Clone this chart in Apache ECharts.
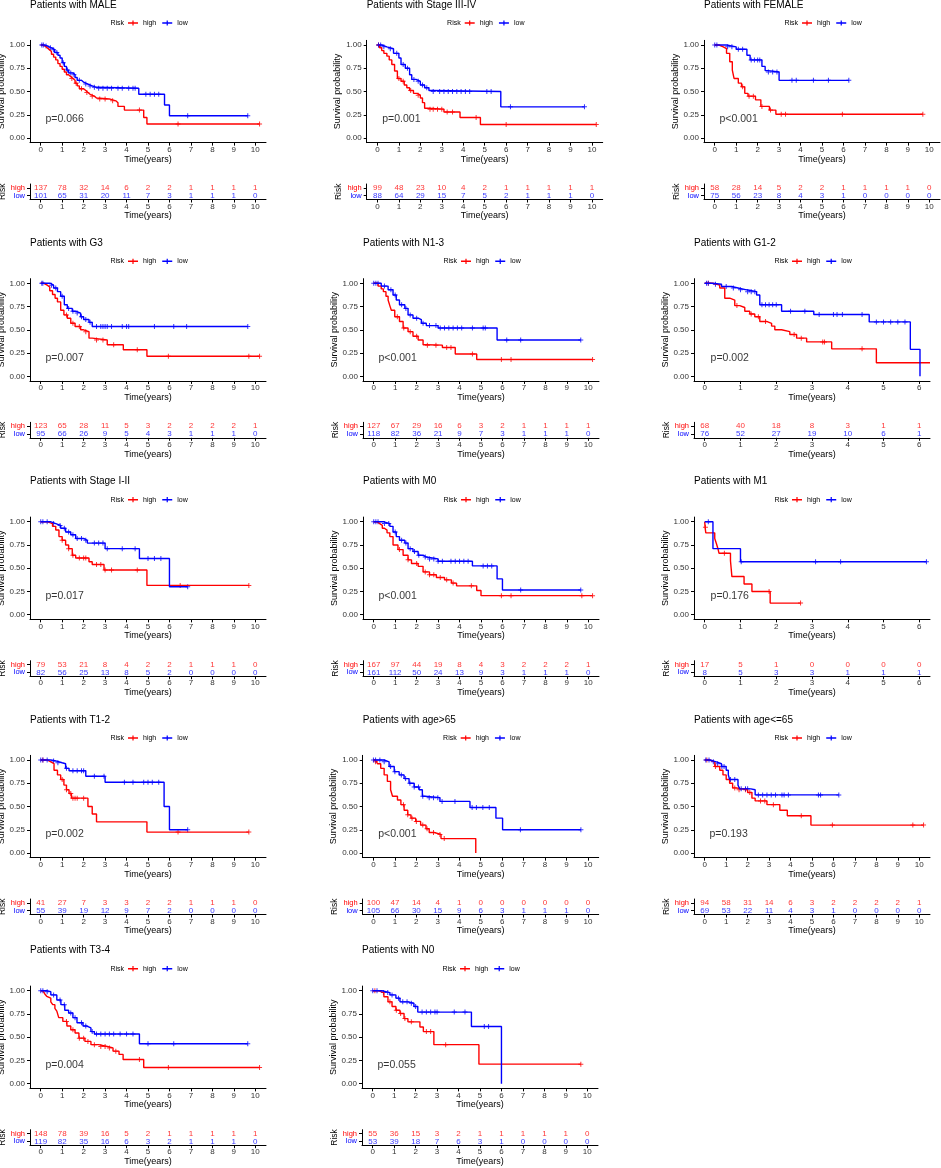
<!DOCTYPE html>
<html>
<head>
<meta charset="utf-8">
<title>Survival by subgroup</title>
<script src="https://cdn.jsdelivr.net/npm/echarts@6/dist/echarts.min.js"></script>
<style>
  html, body { margin: 0; padding: 0; background: #fff; }
  #chart { width: 941px; height: 1168px; }
</style>
</head>
<body>
<div id="chart"></div>
<script>
// ---- data: [time, survival] after each step ----
const maleHigh = [[0,1],[0.1,0.99],[0.2,0.97],[0.3,0.95],[0.4,0.93],[0.5,0.9],[0.6,0.87],[0.7,0.84],[0.8,0.8],[0.9,0.77],[1.0,0.74],[1.1,0.71],[1.2,0.68],[1.3,0.66],[1.4,0.64],[1.5,0.62],[1.6,0.59],[1.7,0.56],[1.8,0.53],[2.0,0.51],[2.1,0.49],[2.2,0.47],[2.3,0.45],[2.5,0.43],[2.6,0.42],[3.2,0.4],[3.5,0.38],[3.6,0.34],[3.9,0.3],[4.8,0.22],[4.95,0.15],[10.2,0.15]];
const maleHighCens = [1.45,1.65,1.9,2.15,2.4,2.75,3.0,3.35,4.6,6.4,10.2];
const maleLow = [[0,1],[0.15,0.99],[0.3,0.97],[0.5,0.95],[0.65,0.92],[0.8,0.89],[0.9,0.86],[1.0,0.81],[1.1,0.77],[1.2,0.73],[1.3,0.7],[1.5,0.68],[1.6,0.65],[1.7,0.62],[1.9,0.6],[2.0,0.58],[2.2,0.56],[2.4,0.545],[2.6,0.535],[4.57,0.47],[5.77,0.355],[6.0,0.24],[9.65,0.24]];
const maleLowCens = [0.05,0.12,0.25,0.45,0.6,0.75,1.05,1.25,1.4,1.55,1.8,2.1,2.3,2.5,2.7,2.9,3.1,3.3,3.6,3.8,4.1,4.3,4.4,4.9,5.1,5.3,5.5,6.85,9.65];
const maleRiskHigh = [137,78,32,14,6,2,2,1,1,1,1];
const maleRiskLow = [101,65,31,20,11,7,3,1,1,1,0];

const stage34High = [[0,1],[0.1,0.97],[0.2,0.94],[0.3,0.91],[0.44,0.88],[0.55,0.84],[0.67,0.79],[0.8,0.72],[0.93,0.64],[1.1,0.61],[1.25,0.57],[1.37,0.54],[1.5,0.51],[1.68,0.48],[1.85,0.46],[2.0,0.43],[2.1,0.38],[2.2,0.32],[2.35,0.31],[3.1,0.28],[3.85,0.22],[4.8,0.145],[10.2,0.145]];
const stage34HighCens = [0.05,1.0,1.2,1.55,1.9,2.45,2.6,2.8,3.0,3.25,3.5,4.6,6.0,10.2];
const stage34Low = [[0,1],[0.2,0.98],[0.44,0.96],[0.75,0.91],[1.0,0.86],[1.1,0.79],[1.3,0.75],[1.5,0.68],[1.6,0.63],[1.8,0.61],[2.0,0.57],[2.2,0.54],[2.4,0.51],[2.5,0.5],[5.75,0.335],[9.65,0.335]];
const stage34LowCens = [0.05,0.15,0.3,0.6,0.9,1.2,1.4,1.7,1.9,2.1,2.3,2.6,2.9,3.1,3.3,3.5,3.7,3.9,4.1,4.3,5.1,5.3,6.2,9.65];
const stage34RiskHigh = [99,48,23,10,4,2,1,1,1,1,1];
const stage34RiskLow = [88,64,29,15,7,5,2,1,1,1,0];

const femaleHigh = [[0,1],[0.2,0.98],[0.4,0.96],[0.55,0.91],[0.7,0.82],[0.82,0.73],[0.9,0.64],[1.1,0.59],[1.25,0.55],[1.4,0.48],[1.55,0.45],[1.9,0.41],[2.15,0.34],[2.55,0.3],[2.85,0.255],[9.7,0.255]];
const femaleHighCens = [1.3,1.6,1.8,2.2,2.6,3.1,3.3,5.95,9.7];
const femaleLow = [[0,1],[0.55,0.98],[1.0,0.955],[1.5,0.89],[1.65,0.84],[2.2,0.77],[2.35,0.725],[2.5,0.71],[3.0,0.62],[6.25,0.62]];
const femaleLowCens = [0,0.1,0.6,0.8,1.1,1.3,1.7,1.85,2.0,2.1,2.5,2.7,2.9,3.6,3.8,4.6,5.3,6.25];
const femaleRiskHigh = [58,28,14,5,2,2,1,1,1,1,0];
const femaleRiskLow = [75,56,23,8,4,3,1,0,0,0,0];

const g3High = [[0,1],[0.15,0.98],[0.3,0.96],[0.42,0.92],[0.55,0.88],[0.67,0.84],[0.78,0.8],[0.93,0.71],[1.08,0.66],[1.24,0.625],[1.4,0.57],[1.6,0.535],[1.86,0.5],[2.0,0.48],[2.25,0.41],[2.4,0.39],[3.1,0.34],[3.85,0.285],[4.95,0.215],[10.2,0.215]];
const g3HighCens = [1.2,1.5,1.8,2.1,2.6,2.9,3.4,4.5,5.95,9.7,10.2];
const g3Low = [[0,1],[0.45,0.98],[0.6,0.95],[0.78,0.91],[0.93,0.86],[1.1,0.77],[1.24,0.73],[1.47,0.7],[1.63,0.68],[1.86,0.64],[2.0,0.61],[2.25,0.58],[2.4,0.535],[9.65,0.535]];
const g3LowCens = [0.05,0.1,0.5,0.7,1.0,1.3,1.5,1.7,1.9,2.1,2.3,2.6,2.8,2.9,3.0,3.1,3.3,3.8,4.0,4.1,5.3,6.2,6.8,9.65];
const g3RiskHigh = [123,65,28,11,5,3,2,2,2,2,1];
const g3RiskLow = [95,66,26,9,5,4,3,1,1,1,0];

const n13High = [[0,1],[0.2,0.97],[0.35,0.94],[0.45,0.91],[0.57,0.86],[0.67,0.82],[0.75,0.76],[0.82,0.71],[0.98,0.64],[1.2,0.59],[1.37,0.52],[1.6,0.48],[1.83,0.43],[2.07,0.39],[2.3,0.34],[2.45,0.335],[3.2,0.31],[3.8,0.24],[4.8,0.18],[10.2,0.18]];
const n13HighCens = [1.1,1.4,1.7,2.0,2.5,2.9,3.4,3.6,4.6,5.95,6.4,10.2];
const n13Low = [[0,1],[0.35,0.97],[0.67,0.93],[0.9,0.875],[1.05,0.82],[1.2,0.77],[1.45,0.73],[1.6,0.66],[1.83,0.625],[2.07,0.61],[2.22,0.57],[2.45,0.545],[3.0,0.52],[5.75,0.39],[9.65,0.39]];
const n13LowCens = [0,0.1,0.2,0.5,0.8,1.0,1.3,1.5,1.7,2.0,2.3,2.6,2.9,3.1,3.3,3.5,3.7,3.9,4.1,4.6,5.1,5.2,6.2,6.85,9.65];
const n13RiskHigh = [127,67,29,16,6,3,2,1,1,1,1];
const n13RiskLow = [118,82,36,21,9,7,3,1,1,1,0];

const g12High = [[0,1],[0.23,0.98],[0.42,0.95],[0.56,0.84],[0.7,0.82],[0.84,0.76],[0.98,0.74],[1.12,0.7],[1.26,0.67],[1.4,0.64],[1.54,0.59],[1.73,0.57],[1.87,0.54],[1.96,0.5],[2.15,0.48],[2.38,0.45],[2.57,0.41],[2.85,0.37],[3.55,0.295],[4.8,0.145],[6.3,0.145]];
const g12HighCens = [0.1,0.9,1.3,1.5,1.7,2.5,2.7,3.3,3.35,4.4];
const g12Low = [[0,1],[0.2,0.99],[0.47,0.965],[0.75,0.95],[0.93,0.93],[1.17,0.91],[1.45,0.875],[1.54,0.77],[2.15,0.7],[3.05,0.665],[4.6,0.585],[5.75,0.29],[6.02,0]];
const g12LowCens = [0.05,0.1,0.3,0.6,0.8,1.0,1.2,1.3,1.4,1.6,1.7,1.8,1.9,2.0,2.4,2.8,3.2,3.6,3.7,3.85,4.4,4.8,5.0,5.2,5.4,5.6];
const g12RiskHigh = [68,40,18,8,3,1,1];
const g12RiskLow = [76,52,27,19,10,6,1];

const stage12High = [[0,1],[0.3,0.98],[0.55,0.95],[0.7,0.91],[0.85,0.84],[1.0,0.8],[1.16,0.75],[1.3,0.71],[1.47,0.64],[1.63,0.61],[2.25,0.57],[2.4,0.54],[2.95,0.48],[4.95,0.315],[9.7,0.315]];
const stage12HighCens = [1.0,1.3,1.5,1.8,2.0,2.1,2.6,2.8,3.0,3.3,4.5,6.5,9.7];
const stage12Low = [[0,1],[0.45,0.98],[0.7,0.96],[0.93,0.93],[1.16,0.89],[1.4,0.86],[1.63,0.82],[2.0,0.8],[2.17,0.77],[3.0,0.71],[4.6,0.605],[6.0,0.3],[6.85,0.3]];
const stage12LowCens = [0,0.1,0.3,0.6,0.9,1.1,1.3,1.5,1.7,1.9,2.1,2.5,2.7,2.9,3.1,3.8,4.4,5.0,5.3,5.6,6.85];
const stage12RiskHigh = [79,53,21,8,4,2,2,1,1,1,0];
const stage12RiskLow = [82,56,25,13,8,5,2,0,0,0,0];

const m0High = [[0,1],[0.15,0.98],[0.28,0.96],[0.4,0.93],[0.5,0.91],[0.62,0.88],[0.75,0.84],[0.9,0.75],[1.13,0.7],[1.37,0.64],[1.6,0.59],[1.76,0.55],[2.07,0.52],[2.3,0.46],[2.6,0.43],[2.92,0.4],[3.3,0.375],[3.62,0.34],[3.86,0.31],[4.8,0.26],[5.0,0.205],[10.2,0.205]];
const m0HighCens = [1.2,1.6,2.0,2.4,2.6,2.8,3.1,3.4,3.7,4.55,5.95,6.4,9.7,10.2];
const m0Low = [[0,1],[0.45,0.98],[0.75,0.95],[0.9,0.89],[1.05,0.84],[1.2,0.8],[1.45,0.77],[1.6,0.71],[1.83,0.68],[2.07,0.64],[2.3,0.62],[2.45,0.6],[3.0,0.575],[4.6,0.525],[5.75,0.385],[6.0,0.265],[9.65,0.265]];
const m0LowCens = [0,0.1,0.2,0.5,0.7,1.0,1.3,1.5,1.7,1.9,2.1,2.4,2.6,2.8,3.0,3.2,3.6,3.8,4.0,4.2,4.4,5.1,5.3,5.5,6.85,9.65];
const m0RiskHigh = [167,97,44,19,8,4,3,2,2,2,1];
const m0RiskLow = [161,112,50,24,13,9,3,1,1,1,0];

const m1High = [[0,1],[0.01,0.94],[0.03,0.88],[0.28,0.82],[0.33,0.76],[0.37,0.71],[0.4,0.66],[0.72,0.58],[0.76,0.41],[1.1,0.33],[1.32,0.25],[1.83,0.125],[2.68,0.125]];
const m1HighCens = [0.02,0.55,1.8,2.68];
const m1Low = [[0,1],[0.23,0.71],[1.0,0.57],[6.2,0.57]];
const m1LowCens = [0.1,1.02,3.1,3.8,6.2];
const m1RiskHigh = [17,5,1,0,0,0,0];
const m1RiskLow = [8,5,3,3,1,1,1];

const t12High = [[0,1],[0.3,0.98],[0.47,0.96],[0.62,0.89],[0.78,0.84],[0.93,0.79],[1.08,0.73],[1.2,0.68],[1.32,0.64],[1.43,0.59],[2.2,0.5],[2.4,0.42],[2.6,0.335],[4.95,0.225],[9.7,0.225]];
const t12HighCens = [0.1,1.0,1.2,1.4,1.5,1.6,1.7,2.0,6.4,9.7];
const t12Low = [[0,1],[0.47,0.99],[0.7,0.97],[1.0,0.96],[1.16,0.91],[1.32,0.885],[2.1,0.825],[3.0,0.76],[5.75,0.5],[6.0,0.25],[6.85,0.25]];
const t12LowCens = [0,0.1,0.3,0.6,0.8,1.2,1.5,1.7,1.9,2.0,2.5,2.95,3.9,4.3,4.8,5.0,5.2,5.5,6.85];
const t12RiskHigh = [41,27,7,3,3,2,2,1,1,1,0];
const t12RiskLow = [55,39,19,12,9,7,2,0,0,0,0];

const oldHigh = [[0,1],[0.1,0.98],[0.19,0.96],[0.34,0.91],[0.5,0.84],[0.65,0.77],[0.8,0.68],[0.89,0.61],[1.12,0.57],[1.28,0.52],[1.43,0.46],[1.6,0.41],[1.75,0.375],[1.97,0.34],[2.2,0.3],[2.45,0.26],[2.6,0.22],[2.83,0.2],[3.15,0.155],[4.77,0]];
const oldHighCens = [0.1,1.4,1.6,1.8,2.0,2.3,2.5,2.8,3.1,3.3];
const oldLow = [[0,1],[0.5,0.98],[0.73,0.93],[0.97,0.875],[1.2,0.84],[1.43,0.8],[1.66,0.75],[1.9,0.71],[2.13,0.68],[2.28,0.61],[2.4,0.595],[3.1,0.555],[4.5,0.49],[5.71,0.375],[6.02,0.25],[9.67,0.25]];
const oldLowCens = [0,0.1,0.3,0.5,0.8,1.0,1.3,1.5,1.7,1.9,2.1,2.3,2.6,2.8,3.0,3.2,3.8,4.6,4.8,5.1,5.4,6.85,9.67];
const oldRiskHigh = [100,47,14,4,1,0,0,0,0,0,0];
const oldRiskLow = [105,66,30,15,9,6,3,1,1,1,0];

const youngHigh = [[0,1],[0.23,0.98],[0.47,0.93],[0.7,0.89],[0.85,0.84],[1.0,0.79],[1.16,0.75],[1.3,0.7],[1.45,0.68],[2.0,0.65],[2.2,0.59],[2.35,0.56],[2.9,0.52],[3.5,0.46],[3.85,0.4],[4.95,0.3],[10.2,0.3]];
const youngHighCens = [0.1,0.5,1.4,1.6,1.9,2.1,2.6,2.8,3.2,4.5,5.95,9.7,10.2];
const youngLow = [[0,1],[0.23,0.98],[0.54,0.96],[0.78,0.93],[1.0,0.89],[1.1,0.84],[1.16,0.79],[1.55,0.73],[1.63,0.69],[2.15,0.68],[2.35,0.625],[6.25,0.625]];
const youngLowCens = [0.05,0.2,0.4,0.6,0.8,0.9,1.2,1.4,1.7,1.9,2.0,2.5,2.7,2.9,3.1,3.3,3.6,3.7,3.9,5.3,5.4,6.25];
const youngRiskHigh = [94,58,31,14,6,3,2,2,2,2,1];
const youngRiskLow = [69,53,22,11,4,3,1,0,0,0,0];

const t34High = [[0,1],[0.1,0.985],[0.19,0.965],[0.28,0.94],[0.37,0.92],[0.47,0.88],[0.56,0.85],[0.66,0.81],[0.75,0.78],[0.84,0.71],[1.03,0.67],[1.22,0.62],[1.4,0.58],[1.6,0.545],[1.78,0.49],[2.06,0.455],[2.34,0.42],[2.7,0.4],[3.1,0.385],[3.37,0.35],[3.65,0.315],[3.84,0.26],[4.8,0.175],[10.2,0.175]];
const t34HighCens = [1.2,1.5,1.8,2.0,2.2,2.5,2.8,3.0,3.2,3.5,4.6,5.95,10.2];
const t34Low = [[0,1],[0.28,0.99],[0.47,0.955],[0.75,0.9],[0.94,0.85],[1.12,0.79],[1.3,0.76],[1.5,0.71],[1.69,0.655],[1.97,0.62],[2.15,0.6],[2.34,0.56],[2.5,0.535],[4.6,0.43],[9.65,0.43]];
const t34LowCens = [0,0.1,0.3,0.6,0.9,1.1,1.4,1.6,1.9,2.1,2.4,2.6,2.8,3.0,3.2,3.4,3.7,4.0,4.3,5.0,6.2,9.65];
const t34RiskHigh = [148,78,39,16,5,2,1,1,1,1,1];
const t34RiskLow = [119,82,35,16,6,3,2,1,1,1,0];

const n0High = [[0,1],[0.24,0.98],[0.52,0.935],[0.71,0.88],[0.9,0.83],[1.08,0.79],[1.27,0.755],[1.46,0.7],[1.64,0.665],[2.2,0.61],[2.36,0.56],[2.85,0.42],[4.95,0.21],[9.7,0.21]];
const n0HighCens = [0.1,0.8,1.1,1.3,1.5,1.8,2.5,2.7,3.4,9.7];
const n0Low = [[0,1],[0.43,0.98],[0.8,0.955],[1.08,0.92],[1.27,0.88],[1.64,0.865],[1.92,0.83],[2.1,0.77],[4.6,0.615],[6.0,0]];
const n0LowCens = [0,0.2,0.5,0.7,0.9,1.2,1.4,1.6,1.8,2.0,2.3,2.5,2.7,2.9,3.0,3.8,4.3,5.2,5.4];
const n0RiskHigh = [55,36,15,3,2,1,1,1,1,1,0];
const n0RiskLow = [53,39,18,7,6,3,1,0,0,0,0];

const panelTitles = ['Patients with MALE','Patients with Stage III-IV','Patients with FEMALE',
  'Patients with G3','Patients with N1-3','Patients with G1-2',
  'Patients with Stage I-II','Patients with M0','Patients with M1',
  'Patients with T1-2','Patients with age>65','Patients with age<=65',
  'Patients with T3-4','Patients with N0'];
const pValues = ['p=0.066','p=0.001','p<0.001','p=0.007','p<0.001','p=0.002','p=0.017',
  'p<0.001','p=0.176','p=0.002','p<0.001','p=0.193','p=0.004','p=0.055'];
const panelYears = [10,10,10,10,10,6,10,10,6,10,10,10,10,10];
const highCurves = [maleHigh,stage34High,femaleHigh,g3High,n13High,g12High,stage12High,m0High,m1High,t12High,oldHigh,youngHigh,t34High,n0High];
const lowCurves = [maleLow,stage34Low,femaleLow,g3Low,n13Low,g12Low,stage12Low,m0Low,m1Low,t12Low,oldLow,youngLow,t34Low,n0Low];
const highCensors = [maleHighCens,stage34HighCens,femaleHighCens,g3HighCens,n13HighCens,g12HighCens,stage12HighCens,m0HighCens,m1HighCens,t12HighCens,oldHighCens,youngHighCens,t34HighCens,n0HighCens];
const lowCensors = [maleLowCens,stage34LowCens,femaleLowCens,g3LowCens,n13LowCens,g12LowCens,stage12LowCens,m0LowCens,m1LowCens,t12LowCens,oldLowCens,youngLowCens,t34LowCens,n0LowCens];
const highRisk = [maleRiskHigh,stage34RiskHigh,femaleRiskHigh,g3RiskHigh,n13RiskHigh,g12RiskHigh,stage12RiskHigh,m0RiskHigh,m1RiskHigh,t12RiskHigh,oldRiskHigh,youngRiskHigh,t34RiskHigh,n0RiskHigh];
const lowRisk = [maleRiskLow,stage34RiskLow,femaleRiskLow,g3RiskLow,n13RiskLow,g12RiskLow,stage12RiskLow,m0RiskLow,m1RiskLow,t12RiskLow,oldRiskLow,youngRiskLow,t34RiskLow,n0RiskLow];

const timeTicks10 = [0,1,2,3,4,5,6,7,8,9,10];
const timeTicks6 = [0,1,2,3,4,5,6];
const survTicks = [0,0.25,0.5,0.75,1];
const riskGroups = ['low','high'];

// ---- layout ----
const panelLeft = [30,366.7,704, 30,363,694, 30,363,694, 30,362.7,694, 30,362];
const rowBase = [45,283.3,521.7,760,990.7];   // pixel y of survival = 1.00
const PW = 236;

const C_HIGH = '#FF0000', C_LOW = '#0000FF';
const FONT = '"Liberation Sans", Arial, sans-serif';
const PLUS = 'path://M4,0H6V4H10V6H6V10H4V6H0V4H4Z';
const LEG_ICON = 'path://M0,2.8H4.4V0.9H5.6V2.8H10V4.2H5.6V6.1H4.4V4.2H0Z';

// survival value of a step curve at time t
function stepAt(curve, t) {
  let s = curve[0][1];
  for (const [x, y] of curve) { if (x <= t) s = y; else break; }
  return s;
}

const option = {
  animation: false,
  backgroundColor: '#fff',
  textStyle: { fontFamily: FONT },
  title: [], legend: [], grid: [], xAxis: [], yAxis: [], series: [], graphic: []
};

const axisBlack = { show: true, onZero: false, lineStyle: { color: '#000', width: 1 } };

panelTitles.forEach((title, i) => {
  const x0 = panelLeft[i];
  const y1 = rowBase[Math.floor(i / 3)];
  const yrs = panelYears[i];
  const ticks = yrs === 10 ? timeTicks10 : timeTicks6;
  const xMin = -0.05 * yrs, xMax = 1.05 * yrs;
  const km = 2 * i, rt = 2 * i + 1;

  option.title.push({
    text: title, left: x0, top: y1 - 45, padding: 0,
    textStyle: { fontSize: 10, fontWeight: 'normal', color: '#000', fontFamily: FONT }
  });
  option.legend.push({
    data: ['high', 'low'], left: x0 + 98, top: y1 - 25.5, padding: 0,
    itemWidth: 10, itemHeight: 7, itemGap: 6, icon: LEG_ICON, selectedMode: false,
    textStyle: { fontSize: 7, color: '#000', fontFamily: FONT }
  });
  option.graphic.push({
    type: 'text', x: x0 + 94, y: y1 - 22, silent: true,
    style: { text: 'Risk', align: 'right', verticalAlign: 'middle', fill: '#000', font: '7px ' + FONT }
  });

  // survival plot
  option.grid.push({ left: x0, top: y1 - 4.65, width: PW, height: 102.3, outerBoundsMode: 'none' });
  option.xAxis.push({
    type: 'value', gridIndex: km, min: xMin, max: xMax,
    axisLine: axisBlack,
    axisTick: { show: true, length: 3, customValues: ticks, lineStyle: { color: '#000' } },
    axisLabel: { customValues: ticks, margin: 3, fontSize: 8, color: '#333' },
    splitLine: { show: false },
    name: 'Time(years)', nameLocation: 'middle', nameGap: 11,
    nameTextStyle: { fontSize: 9, color: '#000' }
  });
  option.yAxis.push({
    type: 'value', gridIndex: km, min: -0.05, max: 1.05,
    axisLine: axisBlack,
    axisTick: { show: true, length: 3, customValues: survTicks, lineStyle: { color: '#000' } },
    axisLabel: { customValues: survTicks, margin: 5, fontSize: 8, color: '#333', formatter: v => v.toFixed(2) },
    splitLine: { show: false },
    name: 'Survival probability', nameLocation: 'middle', nameRotate: 90, nameGap: 21,
    nameTextStyle: { fontSize: 9, color: '#000' }
  });

  // risk table
  option.grid.push({ left: x0, top: y1 + 139, width: PW, height: 15.5, outerBoundsMode: 'none' });
  option.xAxis.push({
    type: 'value', gridIndex: rt, min: xMin, max: xMax,
    axisLine: axisBlack,
    axisTick: { show: true, length: 3, customValues: ticks, lineStyle: { color: '#000' } },
    axisLabel: { customValues: ticks, margin: 3, fontSize: 8, color: '#333' },
    splitLine: { show: false },
    name: 'Time(years)', nameLocation: 'middle', nameGap: 11,
    nameTextStyle: { fontSize: 9, color: '#000' }
  });
  option.yAxis.push({
    type: 'category', gridIndex: rt, data: riskGroups,
    axisLine: axisBlack,
    axisTick: { show: true, length: 3, interval: 0, alignWithLabel: true, lineStyle: { color: '#000' } },
    axisLabel: { interval: 0, hideOverlap: false, margin: 5, fontSize: 7.5,
      color: v => (v === 'high' ? C_HIGH : C_LOW) },
    splitLine: { show: false },
    name: 'Risk', nameLocation: 'middle', nameRotate: 90, nameGap: 21,
    nameTextStyle: { fontSize: 8.5, color: '#000' }
  });

  // curves
  [['high', highCurves[i], highCensors[i], C_HIGH], ['low', lowCurves[i], lowCensors[i], C_LOW]]
    .forEach(([name, curve, cens, col]) => {
      option.series.push({
        type: 'line', name, xAxisIndex: km, yAxisIndex: km, data: curve,
        step: 'end', showSymbol: false, symbol: PLUS, silent: true,
        lineStyle: { color: col, width: 1.4 }, itemStyle: { color: col }
      });
      option.series.push({
        type: 'scatter', name, xAxisIndex: km, yAxisIndex: km, silent: true,
        data: cens.map(t => [t, stepAt(curve, t)]),
        symbol: PLUS, symbolSize: 5, itemStyle: { color: col }
      });
    });

  // p value
  option.series.push({
    type: 'scatter', xAxisIndex: km, yAxisIndex: km, silent: true,
    data: [[yrs === 10 ? 0.2 : 0.15, 0.2]], symbolSize: 1, itemStyle: { color: 'rgba(0,0,0,0)' },
    label: { show: true, position: 'right', distance: 0, formatter: pValues[i], fontSize: 10.5, color: '#000' }
  });

  // numbers at risk
  [['high', highRisk[i], C_HIGH], ['low', lowRisk[i], C_LOW]].forEach(([grp, counts, col]) => {
    option.series.push({
      type: 'scatter', xAxisIndex: rt, yAxisIndex: rt, silent: true,
      data: ticks.map((t, k) => [t, grp, counts[k]]),
      symbolSize: 1, itemStyle: { color: 'rgba(0,0,0,0)' },
      label: { show: true, position: 'inside', formatter: p => String(p.value[2]), fontSize: 8, color: col }
    });
  });
});

const chart = echarts.init(document.getElementById('chart'), null, { renderer: 'canvas' });
chart.setOption(option);
</script>
</body>
</html>
